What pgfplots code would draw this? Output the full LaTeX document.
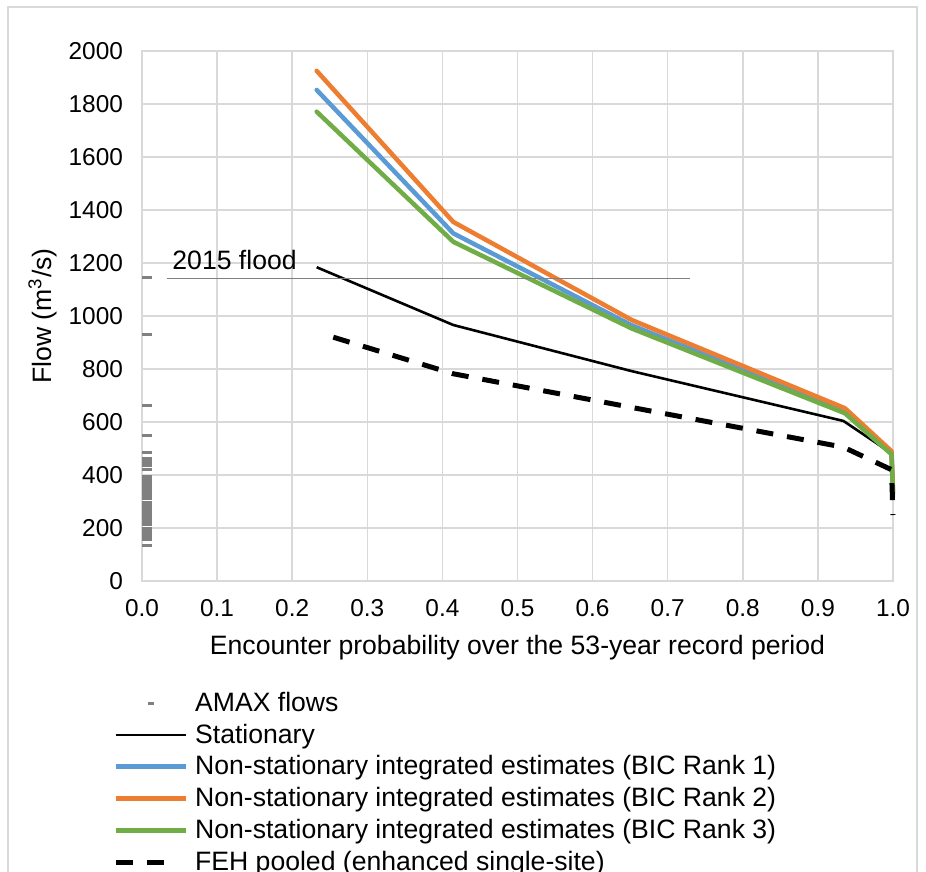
\documentclass[border=0pt]{standalone}
\usepackage{pgfplots}
\pgfplotsset{compat=1.18}
\usepackage{fontspec}
\setmainfont{Liberation Sans}
\definecolor{xlblue}{HTML}{5B9BD5}
\definecolor{xlorange}{HTML}{ED7D31}
\definecolor{xlgreen}{HTML}{70AD47}
\definecolor{xlgrid}{HTML}{D9D9D9}
\definecolor{xlgray}{HTML}{808080}
\begin{document}
\begin{tikzpicture}
\begin{axis}[
  at={(0,0)}, anchor=south west,
  scale only axis, width=375.5pt, height=265pt,
  xmin=0, xmax=1, ymin=0, ymax=2000,
  clip=false,
  xtick={0,0.1,0.2,0.3,0.4,0.5,0.6,0.7,0.8,0.9,1.0},
  ytick={0,200,400,600,800,1000,1200,1400,1600,1800,2000},
  grid=major, grid style={xlgrid, line width=0.75pt},
  axis line style={xlgrid, line width=0.75pt},
  major tick length=0pt,
  tick label style={font=\fontsize{12.2}{14}\selectfont, black},
  /pgf/number format/assume math mode=true,
  xticklabel style={yshift=-5.5pt, /pgf/number format/.cd, fixed, fixed zerofill, precision=1, assume math mode=true},
  yticklabel style={xshift=-6pt, /pgf/number format/.cd, 1000 sep={}, assume math mode=true},
  every axis x label/.style={at={(axis description cs:0.5,-0.126)}, anchor=center, font=\fontsize{13.3}{15.9}\selectfont},
  every axis y label/.style={at={(axis description cs:-0.132,0.5)}, rotate=90, anchor=center, font=\fontsize{13.3}{15.9}\selectfont},
  xlabel={Encounter probability over the 53-year record period},
  ylabel={Flow (m\textsuperscript{3}/s)},
  legend style={at={(-0.0466,-0.192)}, anchor=north west, draw=none, fill=none,
    font=\fontsize{13.3}{15.9}\selectfont, legend cell align=left,
    column sep=3.5pt, row sep=0pt,
    nodes={inner sep=0pt, minimum height=15.9pt}},
  legend image code/.code={\draw[#1, line cap=butt] (0pt,0pt) -- (35pt,0pt);},
]
% AMAX flows
\addplot[only marks, mark=-, mark size=2.5pt, mark options={xlgray, line width=1.5pt},
  legend image code/.code={\draw[xlgray, line width=1.5pt] (15.8pt,0pt) -- (19.2pt,0pt);}]
  coordinates {
  (0.0067,1144) (0.0067,929) (0.0067,661) (0.0067,550) (0.0067,484)
  (0.0067,464) (0.0067,460) (0.0067,456) (0.0067,448) (0.0067,440) (0.0067,437) (0.0067,434)
  (0.0067,419)
  (0.0067,395) (0.0067,389) (0.0067,383) (0.0067,377) (0.0067,371) (0.0067,365) (0.0067,359)
  (0.0067,353) (0.0067,347) (0.0067,341) (0.0067,335) (0.0067,329) (0.0067,323) (0.0067,317) (0.0067,312)
  (0.0067,298) (0.0067,290) (0.0067,283) (0.0067,277) (0.0067,274)
  (0.0067,262) (0.0067,256) (0.0067,250) (0.0067,244) (0.0067,238) (0.0067,232) (0.0067,229) (0.0067,226) (0.0067,220) (0.0067,214)
  (0.0067,199) (0.0067,193) (0.0067,187) (0.0067,181) (0.0067,175) (0.0067,169) (0.0067,163) (0.0067,160) (0.0067,157)
  (0.0067,135)
  };
\addlegendentry{AMAX flows}
% Stationary
\addplot[black, line width=1.3pt, line join=round] coordinates {
  (0.2326,1184) (0.4145,966) (0.652,792) (0.934,604) (0.998,482) (1.0,400)};
\addlegendentry{Stationary}
% Rank 1
\addplot[xlblue, line width=2.25pt, line join=round, line cap=round] coordinates {
  (0.2326,1853) (0.4145,1312) (0.652,965) (0.936,642) (0.998,485) (1.0,330)};
\addlegendentry{Non-stationary integrated estimates (BIC Rank 1)}
% Rank 2
\addplot[xlorange, line width=2.25pt, line join=round, line cap=round] coordinates {
  (0.2326,1925) (0.4145,1355) (0.652,985) (0.936,652) (0.998,490) (1.0,340)};
\addlegendentry{Non-stationary integrated estimates (BIC Rank 2)}
% Rank 3
\addplot[xlgreen, line width=2.25pt, line join=round, line cap=round] coordinates {
  (0.2326,1771) (0.4145,1280) (0.652,953) (0.936,633) (0.998,478) (1.0,318)};
\addlegendentry{Non-stationary integrated estimates (BIC Rank 3)}
% FEH pooled
\addplot[black, line width=2.5pt, line join=round, dash pattern=on 8.5pt off 7pt,
  legend image code/.code={\draw[black, line width=2.5pt, dash pattern=on 8.5pt off 7pt] (0pt,0pt) -- (26pt,0pt);}] coordinates {
  (0.2547,920) (0.4145,782) (0.652,655) (0.934,505) (0.998,420) (1.0,249)};
\addlegendentry{FEH pooled (enhanced single-site)}
% 2015 flood line
\addplot[xlgray, line width=0.6pt, forget plot] coordinates {(0.033,1140) (0.73,1140)};
\node[anchor=base west, inner sep=0pt, font=\fontsize{13.3}{15.9}\selectfont] at (axis cs:0.04,1175) {2015 flood};
\end{axis}
\draw[xlgrid, line width=0.75pt] (-67pt,-200pt) -- (-67pt,287pt) -- (387.5pt,287pt) -- (387.5pt,-200pt);
\pgfresetboundingbox
\useasboundingbox (-71pt,-145.5pt) rectangle (392pt,290.5pt);
\end{tikzpicture}
\end{document}
